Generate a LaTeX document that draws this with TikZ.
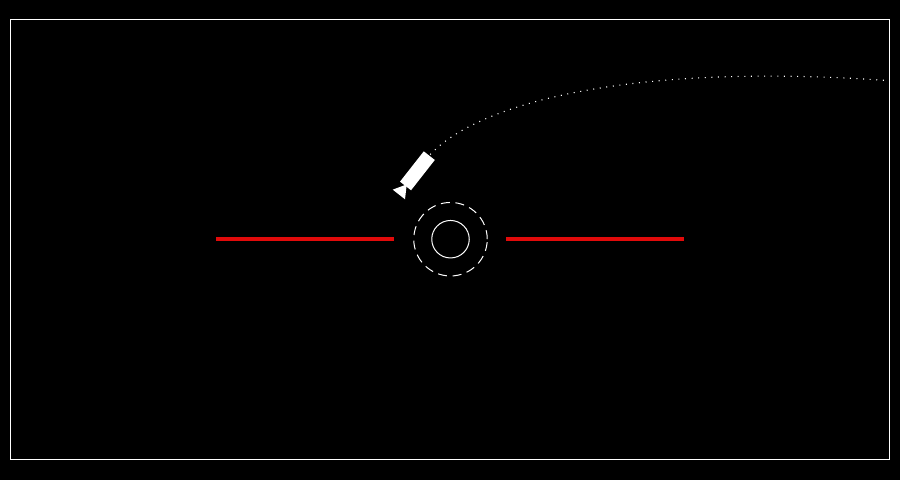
\documentclass[tikz,border=0pt]{standalone}
\begin{document}
\begin{tikzpicture}[x=1pt,y=-1pt,
  frame/.style={draw=white,line width=1pt},
  redbar/.style={draw=barred,line width=4.5pt},
  trail/.style={draw=white,line width=1.1pt,dash pattern=on 1pt off 5.6pt},
  camfill/.style={fill=white,draw=none}]
\definecolor{barred}{RGB}{225,10,10}
\fill[black] (0,0) rectangle (900,480);
\useasboundingbox (0,0) rectangle (900,480);
\draw[frame] (10.5,19.5) rectangle (889.5,459.5);
% target
\coordinate (c) at (450.5,239.2);
\node[circle,draw=white,line width=1pt,minimum size=37.5pt,inner sep=0pt] (inner) at (c) {};
\node[circle,draw=white,line width=1pt,minimum size=73.5pt,inner sep=0pt,dash pattern=on 9pt off 5.6pt] (outer) at (c) {};
% red bars
\coordinate (l1) at (216,239);
\coordinate (l2) at (394,239);
\coordinate (r1) at (506,239);
\coordinate (r2) at (684,239);
\draw[redbar] (l1) -- (l2);
\draw[redbar] (r1) -- (r2);
% camera
\begin{scope}[shift={(417.25,171)},x={(-0.617pt,-0.787pt)},y={(0.787pt,-0.617pt)}]
  \fill[camfill] (-19.5,-7) -- (19,-7) -- (19,7) -- (-19.5,7) -- cycle;
  \fill[camfill] (17,0) -- (29.8,-7.8) -- (29.8,7.8) -- cycle;
  \coordinate (camtop) at (-21,0);
\end{scope}
% trajectory
\coordinate (tend) at (887,80.5);
\draw[trail] (camtop) .. controls (482,100) and (640,63) .. (tend);
\end{tikzpicture}
\end{document}
